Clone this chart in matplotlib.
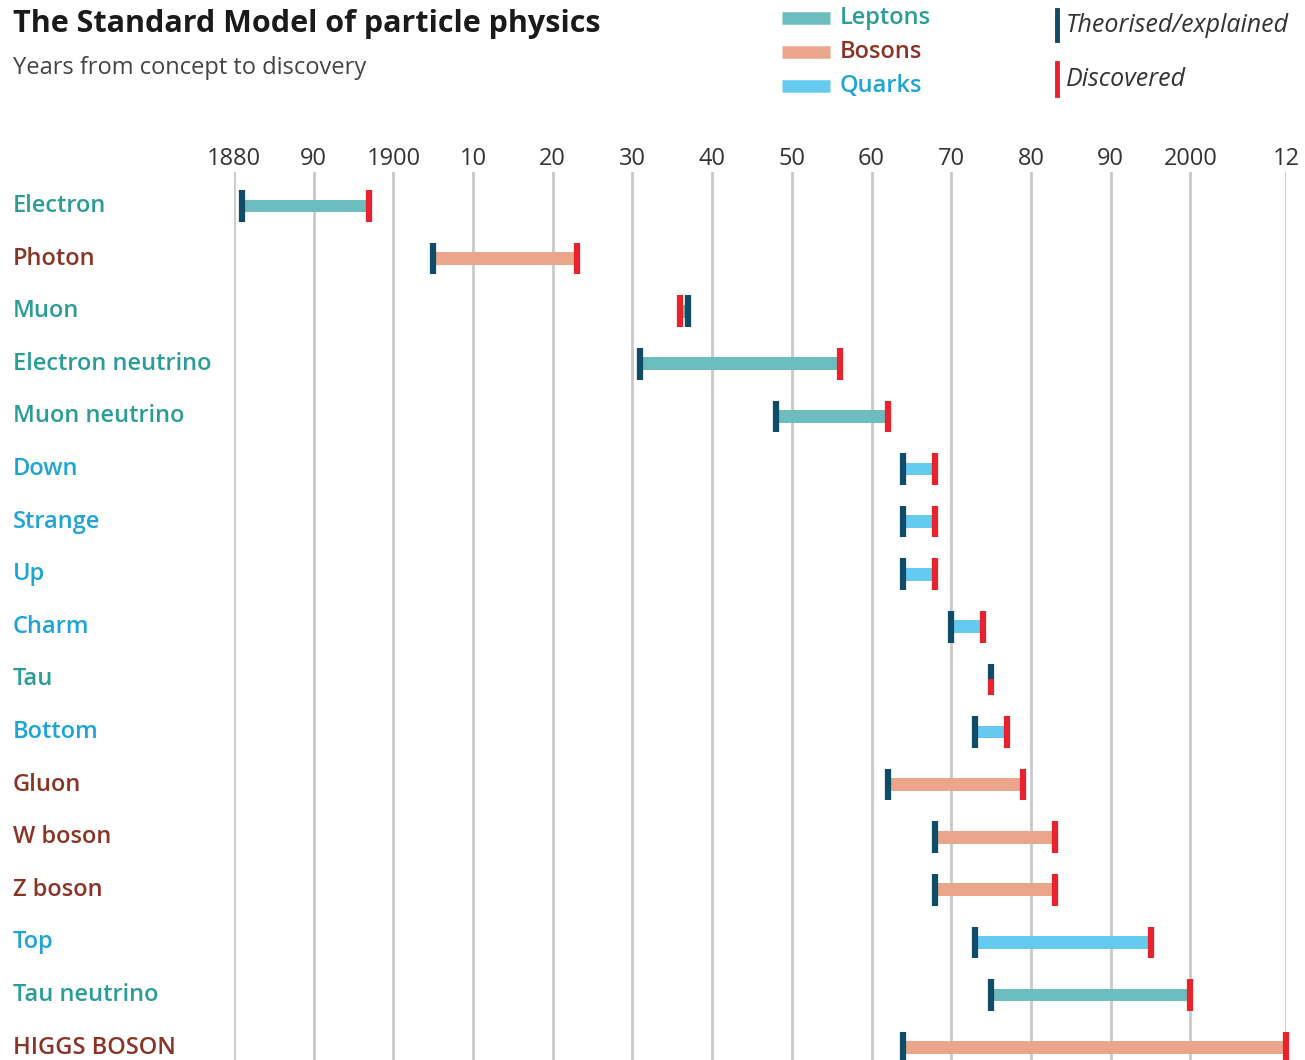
import matplotlib
matplotlib.use("Agg")
import matplotlib.pyplot as plt
import matplotlib.transforms as mtransforms

plt.rcParams["font.family"] = ["Open Sans", "DejaVu Sans"]

# --- data ---
particles = ["Electron", "Photon", "Muon", "Electron neutrino", "Muon neutrino",
             "Down", "Strange", "Up", "Charm", "Tau", "Bottom", "Gluon",
             "W boson", "Z boson", "Top", "Tau neutrino", "HIGGS BOSON"]
groups = ["lepton", "boson", "lepton", "lepton", "lepton",
          "quark", "quark", "quark", "quark", "lepton", "quark", "boson",
          "boson", "boson", "quark", "lepton", "boson"]
theorised = [1881, 1905, 1937, 1931, 1948, 1964, 1964, 1964, 1970, 1975, 1973,
             1962, 1968, 1968, 1973, 1975, 1964]
discovered = [1897, 1923, 1936, 1956, 1962, 1968, 1968, 1968, 1974, 1975, 1977,
              1979, 1983, 1983, 1995, 2000, 2012]
tick_years = [1880, 1890, 1900, 1910, 1920, 1930, 1940, 1950, 1960, 1970,
              1980, 1990, 2000, 2012]
tick_labels = ["1880", "90", "1900", "10", "20", "30", "40", "50", "60", "70",
               "80", "90", "2000", "12"]

bar_col = {"lepton": "#6dbcbe", "boson": "#eba58b", "quark": "#66c9ee"}
text_col = {"lepton": "#2a9d98", "boson": "#8a3426", "quark": "#1ea4d6"}
legend_names = [("lepton", "Leptons"), ("boson", "Bosons"), ("quark", "Quarks")]
DARK = "#0f4c68"
RED = "#e8232d"

W, H = 1305, 1060
fig = plt.figure(figsize=(W / 100, H / 100), dpi=100)
fig.patch.set_facecolor("white")

# axes: x 234..1286 px, y 172..1060 px
row_px = 52.6
top_px, bot_px = 172, 1060
first_row_px = 206
ymin = -(first_row_px - top_px) / row_px
ymax = (bot_px - first_row_px) / row_px
ax = fig.add_axes([234 / W, 0, (1286 - 234) / W, (bot_px - top_px) / H])
ax.set_xlim(1880, 2012)
ax.set_ylim(ymax, ymin)
for s in ax.spines.values():
    s.set_visible(False)
ax.set_yticks([])
ax.set_xticks(tick_years)
ax.set_xticklabels(tick_labels)
ax.xaxis.tick_top()
ax.tick_params(axis="x", length=0, pad=1, labelsize=17, labelcolor="#333333")
for x in tick_years:
    ax.axvline(x, color="#c9c9c9", lw=2, zorder=0)

bar_h = 0.24
mk_h = 0.3
for i, (t, d, g) in enumerate(zip(theorised, discovered, groups)):
    lo, hi = min(t, d), max(t, d)
    if hi > lo:
        ax.barh(i, hi - lo, left=lo, height=bar_h, color=bar_col[g], zorder=2)
    if t == d:
        # same year: split the tick, theorised on top, discovered below
        ax.vlines(t, i - mk_h, i, color=DARK, lw=4.5, zorder=3, clip_on=False)
        ax.vlines(d, i, i + mk_h, color=RED, lw=4.5, zorder=3, clip_on=False)
    else:
        ax.vlines(t, i - mk_h, i + mk_h, color=DARK, lw=4.5, zorder=3, clip_on=False)
        ax.vlines(d, i - mk_h, i + mk_h, color=RED, lw=4.5, zorder=3, clip_on=False)

# row labels at left
trans = mtransforms.blended_transform_factory(fig.transFigure, ax.transData)
for i, (name, g) in enumerate(zip(particles, groups)):
    ax.text(13 / W, i, name, transform=trans, ha="left", va="center",
            fontsize=17, color=text_col[g], fontweight="semibold",
            clip_on=False)

# title
fig.text(13 / W, 1 - 24 / H, "The Standard Model of particle physics",
         fontsize=22, fontweight="bold", color="#1a1a1a", va="center")
fig.text(13 / W, 1 - 68 / H, "Years from concept to discovery",
         fontsize=17, color="#444444", va="center")

# legend: groups
for k, (g, lab) in enumerate(legend_names):
    y = 1 - (18 + 34 * k) / H
    fig.add_artist(plt.Line2D([782 / W, 830 / W], [y, y], color=bar_col[g],
                              lw=9, solid_capstyle="butt"))
    fig.text(840 / W, y, lab, fontsize=17, fontweight="semibold",
             color=text_col[g], va="center")

# legend: markers
for y0, y1, col, lab, yt in [(10, 40, DARK, "Theorised/explained", 25),
                             (63, 95, RED, "Discovered", 79)]:
    fig.add_artist(plt.Line2D([1057 / W, 1057 / W], [1 - y0 / H, 1 - y1 / H],
                              color=col, lw=3.5))
    fig.text(1066 / W, 1 - yt / H, lab, fontsize=18, style="italic",
             color="#333333", va="center")

fig.savefig("out.png", dpi=100, facecolor="white")
